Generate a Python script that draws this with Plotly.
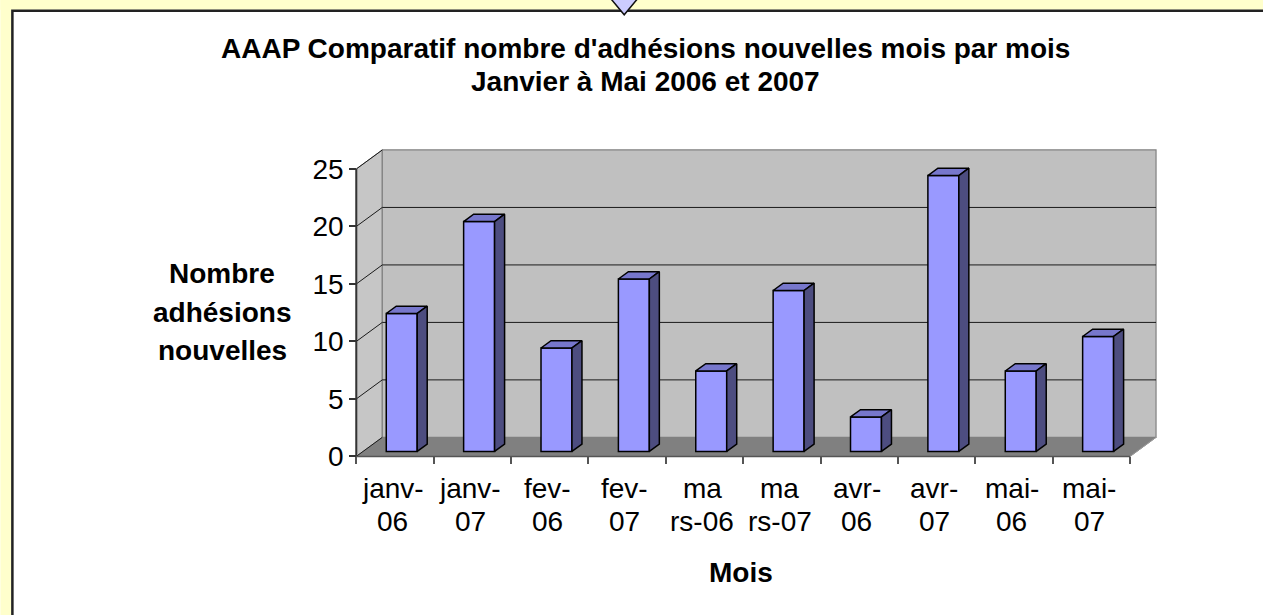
import plotly.graph_objects as go

# ---------------- data ----------------
tick_labels = ["janv-<br>06", "janv-<br>07", "fev-<br>06", "fev-<br>07", "ma<br>rs-06",
               "ma<br>rs-07", "avr-<br>06", "avr-<br>07", "mai-<br>06", "mai-<br>07"]
values = [12, 20, 9, 15, 7, 14, 3, 24, 7, 10]
y_ticks = [0, 5, 10, 15, 20, 25]
title_lines = ["AAAP Comparatif nombre d'adhésions nouvelles mois par mois",
               "Janvier à Mai 2006 et 2007"]
y_title_lines = ["Nombre", "adhésions", "nouvelles"]
x_title = "Mois"

# ---------------- geometry (pseudo 3D) ----------------
W, H = 1263, 615
UX, UY = 77.4, 11.48          # px per category / per unit
X0PX, Y0PX = 356, 456          # pixel of x=-0.5 / y=0 on front plane
xr = [-0.62, 9.9]
yr = [-0.4, 27.0]
DX, DY = 26 / UX, 19 / UY       # depth offsets in data units
F0, F1 = 0.26, 0.645            # bar depth fractions
BW = 0.40                       # bar front width
YMAX = y_ticks[-1]
n = len(values)

l = X0PX + (xr[0] + 0.5) * UX
pw = (xr[1] - xr[0]) * UX
t = Y0PX - yr[1] * UY
ph = (yr[1] - yr[0]) * UY
b = H - t - ph
r = W - l - pw

def xp(px):
    return (px - l) / pw

def yp(py):
    return (t + ph - py) / ph

FONT = "Liberation Sans, Arial, sans-serif"

fig = go.Figure()

# bars front faces
b0 = F0 * DY
off = F0 * DX - BW / 2
fig.add_trace(go.Bar(
    x=list(range(n)), y=values, base=b0, width=BW, offset=off,
    marker=dict(color="#9999FF", line=dict(color="black", width=1.5)),
    hoverinfo="skip", showlegend=False))

# tops and sides
d = (F1 - F0) * DX
e = (F1 - F0) * DY
tx, ty, sx, sy = [], [], [], []
for i, v in enumerate(values):
    xl = i + off
    xrt = xl + BW
    top = b0 + v
    tx += [xl, xrt, xrt + d, xl + d, xl, None]
    ty += [top, top, top + e, top + e, top, None]
    sx += [xrt, xrt + d, xrt + d, xrt, xrt, None]
    sy += [b0, b0 + e, top + e, top, b0, None]
fig.add_trace(go.Scatter(x=tx, y=ty, mode="lines", fill="toself", fillcolor="#7777CC",
                         line=dict(color="black", width=1.5), hoverinfo="skip", showlegend=False))
fig.add_trace(go.Scatter(x=sx, y=sy, mode="lines", fill="toself", fillcolor="#4D4D80",
                         line=dict(color="black", width=1.5), hoverinfo="skip", showlegend=False))

shapes = []
# yellow page margins (top and left) and dark chart border
shapes.append(dict(type="rect", xref="paper", yref="paper", x0=xp(0), y0=yp(0), x1=xp(W), y1=yp(10),
                   fillcolor="#FFFFCC", line=dict(width=0), layer="below"))
shapes.append(dict(type="rect", xref="paper", yref="paper", x0=xp(0), y0=yp(0), x1=xp(11), y1=yp(H),
                   fillcolor="#FFFFCC", line=dict(width=0), layer="below"))
shapes.append(dict(type="path", xref="paper", yref="paper", layer="below",
                   path=f"M {xp(12)},{yp(H + 5)} L {xp(12)},{yp(11)} L {xp(W + 5)},{yp(11)}",
                   line=dict(color="#222222", width=2.5)))
# keep the right part of the chart area plain white
shapes.append(dict(type="rect", xref="paper", yref="paper", x0=xp(1190), y0=yp(12.5), x1=xp(W + 40),
                   y1=yp(H + 40), fillcolor="white", line=dict(width=0), layer="above"))
xa, xb = -0.5, n - 0.5
# floor
shapes.append(dict(type="path", xref="x", yref="y", layer="below",
                   path=f"M {xa},0 L {xa+DX},{DY} L {xb+DX},{DY} L {xb},0 Z",
                   fillcolor="#808080", line=dict(color="#808080", width=1)))
# left wall
shapes.append(dict(type="path", xref="x", yref="y", layer="below",
                   path=f"M {xa},0 L {xa+DX},{DY} L {xa+DX},{YMAX+DY} L {xa},{YMAX} Z",
                   fillcolor="#C6C6C6", line=dict(color="#808080", width=1)))
# back wall
shapes.append(dict(type="rect", xref="x", yref="y", layer="below",
                   x0=xa + DX, y0=DY, x1=xb + DX, y1=YMAX + DY,
                   fillcolor="#C0C0C0", line=dict(color="#808080", width=1.2)))
# gridlines
for v in y_ticks[1:-1]:
    shapes.append(dict(type="line", xref="x", yref="y", layer="below",
                       x0=xa + DX, y0=v + DY, x1=xb + DX, y1=v + DY, line=dict(color="#1a1a1a", width=1)))
for v in y_ticks:
    shapes.append(dict(type="line", xref="x", yref="y", layer="below",
                       x0=xa, y0=v, x1=xa + DX, y1=v + DY, line=dict(color="#1a1a1a", width=1)))
# floor right edge
shapes.append(dict(type="line", xref="x", yref="y", layer="below",
                   x0=xb, y0=0, x1=xb + DX, y1=DY, line=dict(color="#9a9a9a", width=1)))
# front axes
shapes.append(dict(type="line", xref="x", yref="y", x0=xa, y0=0, x1=xa, y1=YMAX,
                   line=dict(color="#333333", width=2)))
shapes.append(dict(type="line", xref="x", yref="y", x0=xa, y0=0, x1=xb, y1=0,
                   line=dict(color="#555555", width=1.5)))
# callout triangle at top
shapes.append(dict(type="path", xref="paper", yref="paper", layer="above",
                   path=f"M {xp(609)},{yp(-3)} L {xp(639)},{yp(-3)} L {xp(624)},{yp(15)} Z",
                   fillcolor="#CCCCFF", line=dict(color="#111111", width=1.5)))

annotations = []
# title
for txt, cy in zip(title_lines, [48.5, 81.5]):
    annotations.append(dict(text=f"<b>{txt}</b>", xref="paper", yref="paper", x=xp(645), y=yp(cy),
                            xanchor="center", yanchor="middle", showarrow=False,
                            font=dict(family=FONT, size=28, color="black")))
# y title
for txt, cy in zip(y_title_lines, [273.5, 312.5, 350.5]):
    annotations.append(dict(text=f"<b>{txt}</b>", xref="paper", yref="paper", x=xp(222), y=yp(cy),
                            xanchor="center", yanchor="middle", showarrow=False,
                            font=dict(family=FONT, size=28, color="black")))
# x title
annotations.append(dict(text=f"<b>{x_title}</b>", xref="paper", yref="paper", x=xp(741), y=yp(572),
                        xanchor="center", yanchor="middle", showarrow=False,
                        font=dict(family=FONT, size=28, color="black")))
# category labels (two lines each)
for i, lab in enumerate(tick_labels):
    for line, cy in zip(lab.split("<br>"), [488.5, 521.5]):
        annotations.append(dict(text=line, xref="x", yref="paper", x=i - 0.03, y=yp(cy),
                                xanchor="center", yanchor="middle", showarrow=False,
                                font=dict(family=FONT, size=28, color="black")))

fig.update_layout(
    width=W, height=H, autosize=False,
    margin=dict(l=l, r=r, t=t, b=b, pad=0),
    paper_bgcolor="white", plot_bgcolor="rgba(0,0,0,0)",
    showlegend=False,
    shapes=shapes, annotations=annotations,
    xaxis=dict(range=xr, showgrid=False, zeroline=False, showline=False,
               tickmode="array", tickvals=[k - 0.5 for k in range(n + 1)],
               ticks="outside", ticklen=7, tickwidth=1.5, tickcolor="#555555",
               showticklabels=False, anchor="free", position=(0 - yr[0]) / (yr[1] - yr[0])),
    yaxis=dict(range=yr, showgrid=False, zeroline=False, showline=False,
               tickmode="array", tickvals=y_ticks,
               ticks="outside", ticklen=7, tickwidth=1.5, tickcolor="#333333",
               tickfont=dict(family=FONT, size=28, color="black"),
               anchor="free", position=(-0.5 - xr[0]) / (xr[1] - xr[0])),
)

fig.write_html("out.html", config={"displayModeBar": False},
               post_script="document.body.style.margin='0';document.body.style.overflow='hidden';")
